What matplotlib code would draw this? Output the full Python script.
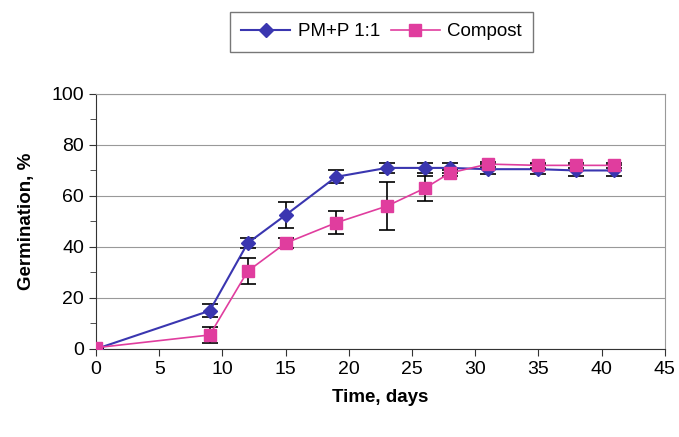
import numpy as np
import matplotlib.pyplot as plt
from matplotlib.ticker import MultipleLocator

plt.rcParams['font.family'] = ['Liberation Sans', 'DejaVu Sans']

days = [0, 9, 12, 15, 19, 23, 26, 28, 31, 35, 38, 41]
pm = [0, 15, 41.5, 52.5, 67.5, 71, 71, 71, 70.5, 70.5, 70, 70]
pm_err = [0, 2.5, 2, 5, 2.5, 2, 2, 2, 2, 2, 2, 2]
compost = [0.5, 5.5, 30.5, 41.5, 49.5, 56, 63, 69, 72.5, 72, 72, 72]
compost_err = [0, 3, 5, 2, 4.5, 9.5, 5, 1, 1, 1, 1, 1]

fig = plt.figure(figsize=(6.79, 4.37), dpi=100)
ax = fig.add_axes([0.1414, 0.2014, 0.8376, 0.5836])

ax.errorbar(days, pm, yerr=pm_err, color='#3a36b0', marker='D', markersize=7.5,
            lw=1.5, ecolor='black', elinewidth=1.2, capsize=6, capthick=1.2,
            label='PM+P 1:1', zorder=3)
ax.errorbar(days, compost, yerr=compost_err, color='#e03d9e', marker='s', markersize=8.5,
            lw=1.2, ecolor='black', elinewidth=1.2, capsize=6, capthick=1.2,
            label='Compost', zorder=4)

ax.set_xlim(0, 45)
ax.set_ylim(0, 100)
ax.xaxis.set_major_locator(MultipleLocator(5))
ax.yaxis.set_major_locator(MultipleLocator(20))
ax.yaxis.set_minor_locator(MultipleLocator(10))
ax.grid(axis='y', which='major', color='#999999', lw=0.8)
ax.set_axisbelow(True)
for s in ['top', 'right']:
    ax.spines[s].set_color('#999999')
for s in ['left', 'bottom']:
    ax.spines[s].set_color('#333333')
ax.tick_params(direction='out', labelsize=14, length=5, color='#333333')
ax.tick_params(which='minor', direction='out', length=4, color='#333333')
ax.set_xlabel('Time, days', fontsize=13.5, fontweight='bold', labelpad=8)
ax.set_ylabel('Germination, %', fontsize=13.5, fontweight='bold', labelpad=12)

h, l = ax.get_legend_handles_labels()
h = [x[0] for x in h]
fig.legend(h, l, loc='center', bbox_to_anchor=(0.562, 0.927), ncol=2, fontsize=13.5,
           frameon=True, fancybox=False, edgecolor='#555555', handlelength=2.6,
           columnspacing=0.6, handletextpad=0.4, borderpad=0.6, borderaxespad=0)

fig.savefig('out.png', dpi=100)
